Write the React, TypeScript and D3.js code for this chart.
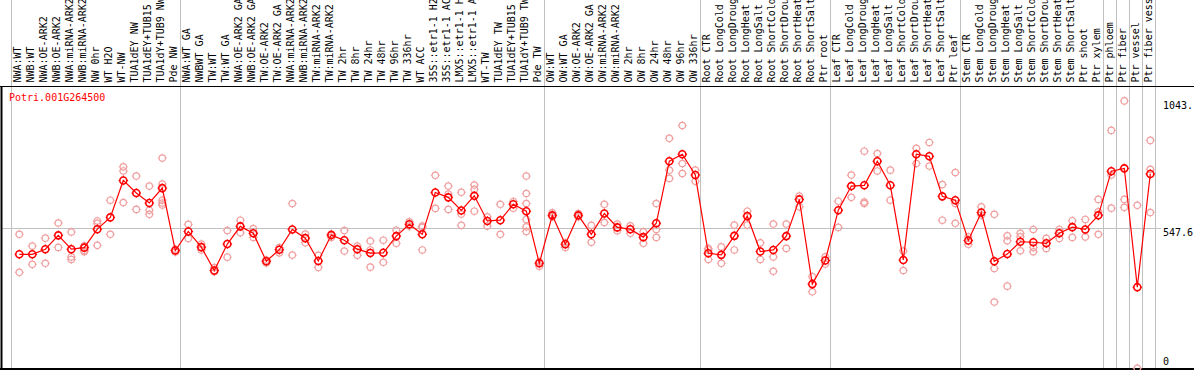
import React from "react";
import * as d3 from "d3";

const TITLE = "Potri.001G264500";

const labels: string[] = [
  "NWA:WT", "NWB:WT", "NWA:OE-ARK2", "NWB:OE-ARK2", "NWA:miRNA-ARK2", "NWB:miRNA-ARK2",
  "NW 0hr", "WT H2O", "WT-NW", "TUA1dEY NW", "TUA1dEY+TUB15 NW", "TUA1dY+TUB9 NW", "Pde NW",
  "NWA:WT GA", "NWBWT GA", "TW:WT", "TW:WT GA", "NWA:OE-ARK2 GA", "NWB:OE-ARK2 GA",
  "TW:OE-ARK2", "TW:OE-ARK2 GA", "NWA:miRNA-ARK2 GA", "NWB:miRNA-ARK2 GA", "TW:miRNA-ARK2",
  "TW:miRNA-ARK2 GA", "TW 2hr", "TW 8hr", "TW 24hr", "TW 48hr", "TW 96hr", "TW 336hr", "WT ACC",
  "35S::etr1-1 H2O", "35S::etr1-1 ACC", "LMX5::etr1-1 H2O", "LMX5::etr1-1 ACC", "WT-TW",
  "TUA1dEY TW", "TUA1dEY+TUB15 TW", "TUA1dY+TUB9 TW", "Pde TW",
  "OW:WT", "OW:WT GA", "OW:OE-ARK2", "OW:OE-ARK2 GA", "OW:miRNA-ARK2", "OW:miRNA-ARK2 GA",
  "OW 2hr", "OW 8hr", "OW 24hr", "OW 48hr", "OW 96hr", "OW 336hr",
  "Root CTR", "Root LongCold", "Root LongDrought", "Root LongHeat", "Root LongSalt",
  "Root ShortCold", "Root ShortDrought", "Root ShortHeat", "Root ShortSalt", "Ptr root",
  "Leaf CTR", "Leaf LongCold", "Leaf LongDrought", "Leaf LongHeat", "Leaf LongSalt",
  "Leaf ShortCold", "Leaf ShortDrought", "Leaf ShortHeat", "Leaf ShortSalt", "Ptr leaf",
  "Stem CTR", "Stem LongCold", "Stem LongDrought", "Stem LongHeat", "Stem LongSalt",
  "Stem ShortCold", "Stem ShortDrought", "Stem ShortHeat", "Stem ShortSalt", "Ptr shoot", "Ptr xylem",
  "Ptr phloem", "Ptr fiber", "Ptr vessel", "Ptr fiber vessel",
];

// indices where a new group (separator line) begins; last = end
const groupStarts: number[] = [0, 13, 41, 53, 63, 73, 84, 85, 86, 87, 88];

const means: number[] = [
  445, 445, 465, 519, 465, 471, 543, 589, 733, 684, 645, 703, 460,
  534, 473, 382, 485, 554, 527, 418, 463, 542, 508, 419, 520, 500, 465, 450, 451, 516,
  562, 523, 686, 667, 616, 673, 575, 578, 640, 613, 410,
  597, 484, 597, 523, 604, 550, 543, 512, 566, 808, 835, 754,
  449, 443, 517, 594, 456, 462, 516, 659, 329, 421,
  617, 711, 714, 808, 714, 423, 835, 827, 671, 656,
  499, 608, 418, 446, 494, 492, 488, 527, 551, 542, 597,
  769, 780, 317, 758,
];

const replicates: number[][] = [
  [523, 375], [477, 406], [508, 410], [567, 472], [532, 435, 425], [478, 460, 455],
  [575, 566, 480], [656, 523], [786, 770, 647], [750, 620], [711, 617, 601],
  [820, 719, 656, 645, 637], [465, 454],
  [562, 507], [485, 462], [393, 377], [538, 434], [578, 529], [545, 511], [423, 411],
  [471, 451], [643, 442], [524, 490], [441, 394], [524, 511], [538, 458], [477, 441],
  [497, 462, 395], [500, 414], [539, 488], [572, 555], [555, 550, 462], [753, 624],
  [711, 680, 620], [687, 602, 558], [715, 698, 613], [591, 555], [640, 523], [651, 625],
  [750, 682, 643, 581, 552, 534], [416, 399],
  [607, 591], [490, 472], [604, 591], [558, 492], [640, 569], [563, 537], [556, 527],
  [533, 488], [643, 542, 511], [897, 773, 741], [947, 799, 760], [773, 730],
  [468, 462, 425], [474, 410], [559, 462], [613, 559], [490, 425], [563, 435, 379],
  [563, 468], [672, 630], [358, 299], [435, 407],
  [652, 550], [754, 667], [847, 649, 643], [838, 770], [773, 656], [458, 382],
  [858, 799], [881, 789], [717, 578], [764, 643, 566],
  [513, 484], [630, 598], [601, 390, 259], [517, 498, 321], [527, 513, 459],
  [542, 472, 455], [507, 468], [542, 507], [576, 511], [581, 513], [659, 611, 523],
  [928, 754, 625], [1043, 659, 628], [636, 1], [889, 776, 608],
];

const yTickLabels: string[] = ["1043.", "547.6", "0"];
const yTickValues: number[] = [1043.05, 547.6, 0];

const W = 1194;
const H = 370;
const FONT = "'DejaVu Sans Mono', 'Liberation Mono', monospace";

function Circ({ cx, cy, r, color, sw }: { cx: number; cy: number; r: number; color: string; sw: number }) {
  const t = r + 1.3;
  return (
    <g>
      <circle cx={cx} cy={cy} r={r} fill="none" stroke={color} strokeWidth={sw} />
      <line x1={cx} x2={cx} y1={cy - t} y2={cy - r} stroke={color} strokeWidth={1} />
      <line x1={cx} x2={cx} y1={cy + r} y2={cy + t} stroke={color} strokeWidth={1} />
      <line x1={cx - t} x2={cx - r} y1={cy} y2={cy} stroke={color} strokeWidth={1} />
      <line x1={cx + r} x2={cx + t} y1={cy} y2={cy} stroke={color} strokeWidth={1} />
    </g>
  );
}

export default function App() {
  const x = d3.scaleLinear().domain([0, labels.length - 1]).range([19.3, 19.3 + 13 * (labels.length - 1)]);
  const y = d3.scaleLinear().domain([0, 1095.2]).range([368.5, 87.5]);
  const line = d3
    .line<number>()
    .x((_, i) => x(i))
    .y((d) => y(d));

  const sepX = (i: number) => Math.round(x(i) - 8) + 0.5;

  return (
    <svg
      width={W}
      height={H}
      style={{ position: "absolute", left: 0, top: 0, background: "#fff" }}
      fontFamily={FONT}
    >
      <rect x={0} y={0} width={W} height={H} fill="#fff" />
      {/* separators */}
      {groupStarts.map((g) => (
        <line key={"s" + g} x1={sepX(g)} x2={sepX(g)} y1={0} y2={369} stroke="#c0c0c0" strokeWidth={1} />
      ))}
      {/* mid gridline */}
      <line x1={2} x2={1161} y1={Math.round(y(547.6)) + 0.5} y2={Math.round(y(547.6)) + 0.5} stroke="#c0c0c0" strokeWidth={1} />
      {/* frame */}
      <line x1={0} x2={W} y1={86.5} y2={86.5} stroke="#000" strokeWidth={1} />
      <line x1={0} x2={W} y1={369} y2={369} stroke="#000" strokeWidth={2} />
      <line x1={1.5} x2={1.5} y1={86} y2={370} stroke="#000" strokeWidth={2} />

      {/* category labels */}
      {labels.map((l, i) => (
        <text
          key={"l" + i}
          transform={`translate(${x(i) + 1.5},82.5) rotate(-90)`}
          fontSize={10}
          fill="#000"
        >
          {l}
        </text>
      ))}

      {/* title */}
      <text x={9} y={101} fontSize={10} fill="#ff0000">
        {TITLE}
      </text>

      {/* y labels */}
      {yTickLabels.map((t, k) => (
        <text
          key={"y" + k}
          x={1163}
          y={k === 2 ? 365 : y(yTickValues[k]) + 8}
          fontSize={10}
          fill="#000"
        >
          {t}
        </text>
      ))}

      {/* replicate points */}
      {replicates.map((reps, i) =>
        reps.map((v, j) => (
          <Circ key={`r${i}-${j}`} cx={x(i)} cy={y(v)} r={3.2} color="#f0a0a0" sw={1.2} />
        ))
      )}

      {/* mean line */}
      <path d={line(means) || ""} fill="none" stroke="#ff0000" strokeWidth={1.2} />

      {/* mean points */}
      {means.map((v, i) => (
        <Circ key={"m" + i} cx={x(i)} cy={y(v)} r={3.5} color="#ff0000" sw={1.6} />
      ))}
    </svg>
  );
}
